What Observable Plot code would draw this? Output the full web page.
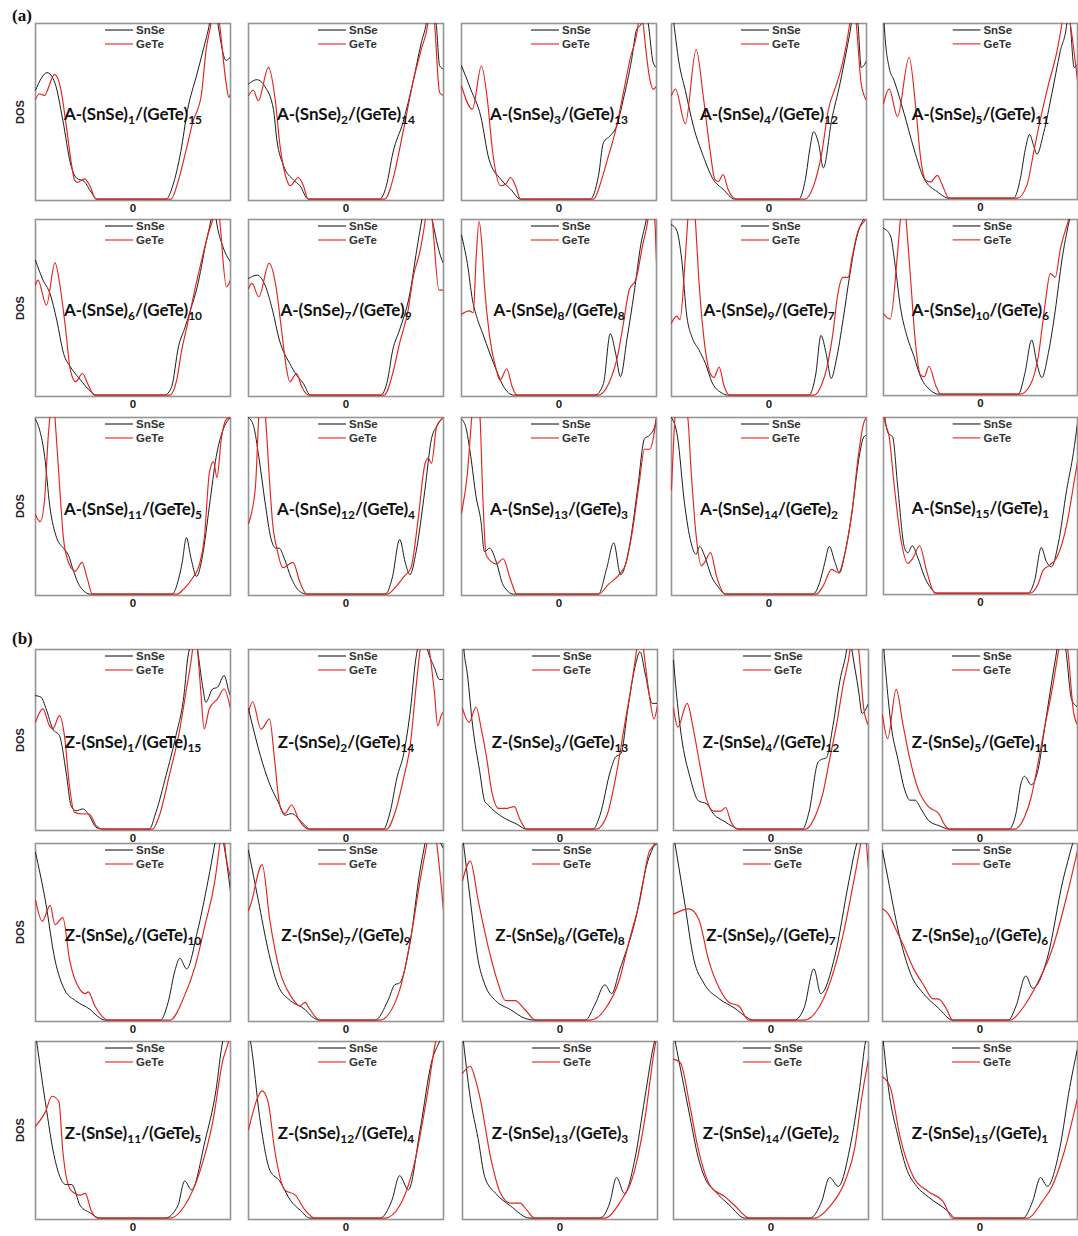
<!DOCTYPE html>
<html><head><meta charset="utf-8">
<script src="https://cdn.jsdelivr.net/npm/d3@7"></script>
<script src="https://cdn.jsdelivr.net/npm/@observablehq/plot@0.6"></script>
<style>
body{margin:0;background:#fff;}
#page{position:relative;width:1078px;height:1236px;overflow:hidden;font-family:"Liberation Sans",Arial,sans-serif;background:#fff;}
.panel{position:absolute;}
.panel svg{display:block;overflow:visible;}
.tag{position:absolute;font-family:"Liberation Serif","Times New Roman",serif;font-weight:bold;font-size:17px;color:#111;}
.dos{position:absolute;font-weight:bold;font-size:11px;color:#222;transform:translate(-50%,-50%) rotate(-90deg);white-space:nowrap;}
</style></head><body><div id="page"></div>
<script>
// ---------- data ----------
const seriesNames = ["SnSe", "GeTe"];
const seriesColors = ["#1c1c1c", "#e3231f"];
const snseLayers = [1,2,3,4,5,6,7,8,9,10,11,12,13,14,15];
const geteLayers = [15,14,13,12,11,10,9,8,7,6,5,4,3,2,1];
const groupPrefixes = ["A", "Z"];
const groupTags = ["(a)", "(b)"];
const xTicks = [0];

// DOS curves: flat [energy, dos] pairs, energy scaled to [-1, 1], dos to frame height
const snseA = [
 [-1,.62,-.88,.72,-.8,.66,-.72,.45,-.64,.2,-.58,.12,-.5,.1,-.43,.04,-.37,0,.34,0,.41,.08,.49,.27,.56,.51,.65,.7,.72,.85,.785,1,.83,1.15,.87,1,.955,.79,1,.81],
 [-1,.655,-.915,.68,-.83,.64,-.744,.51,-.71,.34,-.64,.19,-.54,.11,-.472,.076,-.387,0,.346,0,.414,.076,.482,.266,.584,.436,.686,.664,.772,.89,.823,1,.86,1.15,.925,1,.96,.76,1,.74],
 [-1,.76,-.905,.625,-.803,.473,-.718,.227,-.599,.114,-.497,.057,-.395,0,.32,0,.405,.133,.456,.322,.524,.36,.592,.417,.66,.568,.745,.795,.796,.966,.847,1.0,.87,1.1,.915,1.0,.966,.777,1,.748],
 [-1,1.1,-.976,1.0,-.926,.787,-.858,.618,-.774,.412,-.673,.243,-.572,.112,-.471,.056,-.352,0,.305,0,.373,.112,.423,.3,.457,.384,.508,.318,.558,.178,.642,.449,.727,.655,.794,.843,.845,1.0,.87,1.1,.912,1.0,.946,.749,1,.787],
 [-1,1.1,-.993,1.0,-.942,.748,-.89,.673,-.788,.486,-.685,.28,-.582,.112,-.445,.037,-.325,0,.342,0,.411,.112,.462,.28,.507,.364,.548,.3,.582,.252,.651,.374,.736,.598,.822,.841,.89,1.0,.907,1.1,.925,1.0,.966,.748,1,.766],
 [-1,.768,-.923,.655,-.852,.579,-.782,.427,-.712,.237,-.642,.161,-.536,.085,-.448,.028,-.378,0,.325,0,.396,.047,.466,.275,.536,.389,.589,.484,.659,.617,.747,.863,.8,1.0,.83,1.1,.853,1.0,.923,.844,1,.759],
 [-1,.664,-.912,.683,-.824,.617,-.754,.484,-.683,.313,-.577,.18,-.507,.114,-.437,.066,-.366,0,.356,0,.426,.085,.479,.256,.549,.37,.655,.579,.725,.825,.778,1.0,.83,1.15,.884,1.0,.972,.787,1,.75],
 [-1,.91,-.94,.75,-.887,.54,-.835,.43,-.782,.35,-.711,.24,-.641,.14,-.57,.05,-.465,0,.37,0,.456,.066,.526,.35,.58,.24,.63,.105,.7,.33,.77,.58,.84,.86,.895,1.0,.93,1.12,1,1.15],
 [-1,.97,-.948,.94,-.895,.77,-.843,.45,-.79,.33,-.721,.26,-.652,.18,-.582,.07,-.477,.01,-.425,0,.41,0,.48,.12,.533,.34,.585,.24,.638,.095,.69,.2,.76,.43,.83,.69,.9,.9,.969,1.0,1,1.02],
 [-1,.95,-.93,.91,-.878,.73,-.826,.5,-.757,.33,-.688,.22,-.618,.1,-.531,.03,-.427,0,.389,0,.458,.12,.528,.31,.58,.18,.632,.095,.701,.24,.771,.48,.84,.77,.91,.98,1,1.15],
 [-1,.99,-.958,.93,-.906,.78,-.854,.5,-.784,.32,-.714,.26,-.662,.22,-.61,.13,-.54,.04,-.436,0,.4,0,.47,.09,.505,.18,.547,.32,.596,.2,.652,.1,.714,.22,.784,.5,.854,.78,.923,.93,1,1.0],
 [-1,1.0,-.947,.95,-.895,.78,-.825,.5,-.772,.32,-.719,.26,-.684,.26,-.632,.2,-.561,.09,-.474,.015,-.404,0,.404,0,.474,.09,.551,.31,.607,.18,.656,.11,.719,.24,.807,.58,.877,.88,.93,.95,1,1.0],
 [-1,.99,-.958,.95,-.905,.78,-.853,.56,-.8,.41,-.765,.24,-.712,.26,-.642,.18,-.572,.05,-.467,0,.404,0,.491,.15,.561,.29,.632,.11,.719,.26,.807,.6,.877,.88,.93,.9,.982,.95,1,1.0],
 [-1,1.0,-.938,.89,-.868,.52,-.799,.29,-.747,.225,-.712,.27,-.66,.216,-.59,.1,-.52,.04,-.451,0,.451,0,.52,.066,.573,.18,.618,.27,.677,.18,.722,.12,.78,.235,.85,.46,.92,.76,.972,.89,1,.9],
 [-1,1.05,-.951,.91,-.906,.89,-.854,.61,-.784,.26,-.749,.23,-.704,.27,-.645,.2,-.575,.09,-.505,.024,-.453,0,.488,0,.557,.07,.627,.26,.679,.18,.732,.15,.801,.28,.889,.59,.958,.8,1,.97]
];
const geteA = [
 [-1,.57,-.96,.6,-.91,.59,-.805,.71,-.74,.625,-.685,.42,-.634,.21,-.6,.11,-.57,.095,-.497,.115,-.446,.08,-.378,0,.391,0,.46,.095,.545,.28,.614,.44,.7,.59,.75,.85,.8,1.0,.84,1.15,.887,1.0,.955,.66,.983,.58,1,.6],
 [-1,.59,-.95,.62,-.9,.56,-.795,.75,-.727,.57,-.676,.3,-.608,.11,-.574,.076,-.489,.123,-.437,.076,-.387,0,.397,0,.482,.114,.55,.285,.618,.474,.686,.664,.772,.853,.84,1,.87,1.15,.908,1,.96,.607,1,.59],
 [-1,.644,-.888,.511,-.796,.758,-.735,.568,-.684,.284,-.599,.076,-.548,.085,-.497,.123,-.446,.076,-.395,0,.354,0,.439,.114,.507,.246,.558,.341,.626,.511,.728,.795,.813,1.0,.84,1.15,.864,1.0,.932,.682,.966,.625,1,.644],
 [-1,.59,-.96,.627,-.858,.43,-.747,.852,-.673,.58,-.605,.28,-.555,.112,-.52,.1,-.471,.14,-.42,.056,-.336,0,.373,0,.457,.075,.541,.262,.608,.506,.693,.655,.76,.787,.828,1.0,.86,1.15,.895,1.0,.946,.655,1,.562],
 [-1,.542,-.942,.626,-.856,.467,-.736,.807,-.668,.523,-.616,.224,-.565,.103,-.514,.093,-.445,.131,-.394,.075,-.325,0,.377,0,.479,.075,.548,.262,.616,.449,.702,.654,.788,.841,.839,1.0,.87,1.15,.925,1.0,1,.673],
 [-1,.626,-.975,.655,-.888,.512,-.8,.753,-.747,.617,-.694,.389,-.642,.142,-.589,.076,-.518,.123,-.466,.066,-.395,0,.378,0,.448,.085,.5,.256,.553,.389,.641,.617,.712,.787,.782,.94,.817,1.0,.85,1.15,.888,1.0,.958,.617,1,.655],
 [-1,.607,-.965,.636,-.894,.56,-.789,.75,-.718,.617,-.665,.389,-.613,.161,-.577,.076,-.507,.123,-.454,.047,-.384,0,.391,0,.479,.123,.549,.294,.637,.484,.69,.674,.761,.825,.814,1.0,.85,1.15,.884,1.0,.954,.598,1,.598],
 [-1,.46,-.92,.48,-.88,.47,-.85,.78,-.82,.99,-.79,.85,-.764,.62,-.711,.33,-.641,.14,-.606,.085,-.535,.15,-.482,.05,-.43,0,.403,0,.51,.066,.6,.22,.667,.43,.72,.6,.79,.66,.86,.86,.912,1.0,.94,1.15,.982,1.0,1,.75],
 [-1,.41,-.948,.45,-.913,.43,-.86,.77,-.833,1.0,-.8,1.2,-.756,1.0,-.721,.67,-.669,.33,-.6,.12,-.564,.1,-.512,.16,-.46,.05,-.408,0,.463,0,.533,.05,.603,.18,.655,.35,.707,.58,.76,.67,.812,.67,.847,.77,.916,.94,.986,1.0,1,1.02],
 [-1,.46,-.93,.43,-.861,.77,-.826,1.0,-.8,1.2,-.767,1.0,-.722,.67,-.67,.29,-.618,.11,-.58,.1,-.531,.16,-.462,.05,-.41,0,.406,0,.51,.05,.597,.22,.667,.52,.719,.69,.771,.67,.823,.83,.91,1.0,1,1.15],
 [-1,.45,-.951,.41,-.906,.54,-.871,.88,-.854,1.0,-.83,1.2,-.8,1.0,-.749,.58,-.714,.32,-.662,.18,-.592,.13,-.523,.18,-.47,.09,-.418,0,.453,0,.523,.03,.61,.09,.68,.165,.732,.32,.784,.69,.826,.75,.861,.66,.906,.88,.958,.99,1,1.0],
 [-1,.4,-.93,.6,-.895,1.0,-.87,1.2,-.825,1.0,-.79,.69,-.754,.41,-.702,.24,-.649,.15,-.544,.18,-.474,.07,-.404,0,.421,0,.509,.04,.596,.1,.667,.15,.737,.41,.807,.73,.842,.77,.877,.74,.93,.95,1,1.0],
 [-1,.46,-.94,.68,-.895,1.0,-.86,1.2,-.81,1.0,-.782,.56,-.747,.22,-.642,.17,-.572,.2,-.502,.09,-.432,0,.404,0,.509,.056,.632,.12,.684,.17,.754,.36,.825,.64,.877,.82,.93,.82,.982,.93,1,1.0],
 [-1,.59,-.965,1.0,-.93,1.2,-.833,1.0,-.799,.7,-.747,.33,-.694,.16,-.66,.18,-.6,.235,-.538,.1,-.451,0,.486,0,.556,.047,.642,.14,.677,.13,.712,.12,.78,.235,.85,.46,.92,.8,.972,.97,1,1.0],
 [-1,1.05,-.993,1.0,-.941,.89,-.889,.61,-.819,.3,-.749,.17,-.697,.2,-.627,.27,-.557,.13,-.47,0,.505,0,.592,.05,.645,.13,.714,.16,.784,.2,.889,.39,.958,.61,1,.75]
];
const snseB = [
 [-1,.743,-.942,.734,-.891,.669,-.823,.558,-.754,.52,-.686,.316,-.635,.13,-.584,.102,-.515,.112,-.447,.074,-.379,.01,-.31,0,.167,0,.235,.093,.338,.297,.44,.52,.526,.762,.56,.948,.577,1.0,.62,1.15,.662,1.0,.713,.8,.747,.706,.816,.78,.867,.79,.935,.855,.986,.762,1,.743],
 [-1,.67,-.94,.536,-.854,.364,-.767,.23,-.697,.153,-.627,.077,-.557,.086,-.453,.038,-.366,0,.383,0,.453,.096,.523,.287,.592,.42,.662,.67,.714,.94,.732,1.0,.78,1.15,.836,1.0,.906,.9,.958,.833,1,.833],
 [-1,1.1,-.986,1.0,-.95,.862,-.896,.575,-.825,.326,-.771,.153,-.736,.134,-.664,.096,-.557,.057,-.45,.029,-.343,0,.339,0,.41,.077,.518,.326,.571,.402,.625,.42,.696,.67,.768,.9,.821,.987,.875,.862,.946,.7,1,.7],
 [-1,.94,-.972,.768,-.92,.52,-.832,.291,-.745,.158,-.657,.139,-.587,.082,-.483,.044,-.395,.015,-.325,0,.322,0,.392,.1,.479,.368,.514,.387,.566,.396,.636,.577,.706,.825,.776,1.0,.8,1.1,.829,1.0,.899,.768,.934,.644,1,.7],
 [-1,1.1,-.965,.863,-.912,.579,-.842,.389,-.772,.218,-.719,.161,-.667,.161,-.596,.104,-.526,.047,-.421,.019,-.316,0,.298,0,.368,.085,.421,.256,.456,.294,.526,.247,.596,.332,.667,.579,.737,.825,.789,1.0,.83,1.15,.88,1.0,.94,.72,1,.68],
 [-1,.95,-.9,.68,-.8,.34,-.7,.17,-.59,.11,-.44,.06,-.36,.02,-.29,0,.28,0,.36,.1,.43,.28,.48,.35,.55,.29,.66,.5,.77,.79,.84,1.0,.88,1.12,.93,1.0,1,.73],
 [-1,.96,-.9,.68,-.8,.4,-.7,.2,-.57,.11,-.42,.06,-.35,.02,-.27,0,.3,0,.43,.11,.5,.2,.55,.21,.66,.45,.76,.85,.81,1.0,.86,1.15,.93,1.05,1,.97],
 [-1,1.05,-.92,.68,-.84,.34,-.77,.2,-.66,.11,-.51,.06,-.36,.01,-.26,0,.26,0,.36,.09,.46,.2,.53,.15,.61,.28,.77,.56,.9,.9,.97,1.0,1,1.05],
 [-1,1.05,-.89,.68,-.79,.34,-.69,.21,-.53,.12,-.38,.07,-.23,.01,-.18,0,.24,0,.34,.07,.44,.29,.51,.15,.65,.35,.8,.79,.88,1.0,1,1.1],
 [-1,.96,-.94,.79,-.84,.51,-.71,.26,-.58,.15,-.43,.07,-.28,0,.29,0,.37,.08,.47,.25,.54,.18,.69,.35,.85,.79,.95,1.0,1,1.1],
 [-1,1.05,-.9,.66,-.8,.33,-.69,.19,-.63,.19,-.54,.07,-.44,.03,-.34,0,.33,0,.46,.07,.53,.21,.6,.16,.74,.44,.85,.72,.92,1.0,1,1.1],
 [-1,1.05,-.98,1.0,-.88,.55,-.78,.27,-.68,.21,-.57,.1,-.47,.045,-.37,0,.35,0,.47,.1,.55,.24,.64,.16,.76,.5,.88,.89,.96,1.0,1,1.05],
 [-1,1.05,-.92,.68,-.84,.45,-.77,.23,-.66,.14,-.51,.07,-.31,0,.41,0,.51,.085,.58,.23,.66,.14,.77,.34,.87,.68,.97,1.0,1,1.05],
 [-1,1.05,-.93,.85,-.83,.57,-.75,.35,-.68,.23,-.57,.15,-.42,.07,-.27,0,.4,0,.52,.095,.6,.23,.69,.18,.81,.4,.91,.74,.97,1.0,1,1.05],
 [-1,1.05,-.94,.74,-.84,.46,-.76,.29,-.65,.18,-.53,.12,-.33,.04,-.25,0,.44,0,.54,.095,.62,.23,.69,.18,.82,.4,.92,.74,1,.96]
];
const geteB = [
 [-1,.595,-.925,.669,-.857,.576,-.823,.558,-.754,.632,-.703,.52,-.652,.242,-.601,.093,-.515,.084,-.447,.084,-.379,.019,-.31,0,.201,0,.27,.074,.372,.297,.474,.539,.543,.762,.611,1.0,.64,1.15,.662,1.0,.696,.762,.73,.558,.782,.669,.867,.725,.935,.78,1,.669],
 [-1,.651,-.958,.709,-.871,.556,-.784,.613,-.732,.383,-.679,.134,-.627,.086,-.557,.134,-.488,.057,-.383,0,.418,0,.505,.096,.592,.287,.662,.479,.714,.766,.76,1.0,.8,1.15,.854,1.0,.906,.766,.941,.575,.976,.632,1,.651],
 [-1,.67,-.932,.594,-.861,.68,-.807,.556,-.754,.402,-.7,.21,-.629,.115,-.557,.115,-.468,.125,-.414,.057,-.343,0,.375,0,.482,.077,.571,.287,.661,.575,.75,.862,.786,1.0,.82,1.15,.857,1.0,.911,.766,.964,.613,1,.69],
 [-1,.672,-.955,.568,-.86,.7,-.797,.558,-.727,.349,-.657,.158,-.587,.1,-.517,.1,-.465,.12,-.413,.044,-.343,0,.357,0,.462,.082,.531,.196,.601,.387,.671,.577,.741,.806,.811,1.0,.84,1.15,.899,1.0,.951,.672,1,.577],
 [-1,.636,-.947,.503,-.86,.778,-.789,.579,-.719,.389,-.632,.218,-.526,.123,-.421,.085,-.368,.028,-.316,0,.351,0,.456,.066,.526,.18,.596,.37,.667,.579,.737,.768,.807,1.0,.85,1.15,.9,1.0,.96,.65,1,.58],
 [-1,.68,-.93,.56,-.85,.65,-.8,.54,-.72,.58,-.65,.34,-.54,.17,-.49,.15,-.46,.16,-.39,.08,-.33,.03,-.26,0,.38,0,.53,.14,.64,.31,.74,.54,.84,.79,.89,1.0,.92,1.15,.94,1.0,1,.81],
 [-1,.62,-.98,.65,-.86,.88,-.78,.56,-.68,.28,-.57,.14,-.47,.08,-.42,.1,-.37,.06,-.27,0,.35,0,.55,.17,.66,.45,.76,.79,.83,1.0,.88,1.15,.93,1.0,1,.62],
 [-1,.79,-.92,.9,-.84,.68,-.73,.4,-.63,.2,-.56,.11,-.46,.11,-.36,.06,-.25,0,.31,0,.46,.06,.61,.23,.71,.45,.82,.68,.92,.96,1,1.0],
 [-1,.6,-.84,.63,-.74,.57,-.64,.34,-.53,.18,-.43,.1,-.33,.08,-.23,0,.34,0,.49,.07,.65,.29,.75,.51,.85,.79,.92,1.0,.95,1.1,1,.85],
 [-1,.63,-.94,.6,-.86,.51,-.79,.43,-.68,.29,-.58,.2,-.48,.12,-.43,.12,-.35,.07,-.28,0,.31,0,.44,.07,.59,.21,.74,.4,.88,.68,1,.96],
 [-1,.52,-.9,.6,-.83,.69,-.76,.66,-.72,.38,-.64,.16,-.54,.13,-.49,.14,-.43,.045,-.36,0,.38,0,.53,.07,.69,.27,.82,.55,.92,.89,.98,1.0,1,1.05],
 [-1,.5,-.9,.69,-.86,.72,-.8,.66,-.73,.38,-.63,.16,-.52,.13,-.42,.045,-.32,0,.4,0,.55,.07,.71,.33,.84,.72,.92,1.0,1,1.1],
 [-1,.82,-.92,.86,-.87,.79,-.82,.68,-.71,.34,-.61,.14,-.51,.085,-.41,.085,-.34,.045,-.26,0,.46,0,.61,.085,.77,.28,.87,.56,.97,.96,1,1.05],
 [-1,.9,-.93,.88,-.83,.63,-.75,.4,-.62,.18,-.47,.12,-.37,.07,-.22,0,.45,0,.61,.07,.76,.21,.86,.4,.93,.68,1,.9],
 [-1,.8,-.92,.74,-.82,.46,-.68,.23,-.53,.15,-.38,.095,-.28,0,.49,0,.64,.095,.74,.18,.85,.35,1,.68]
];

// ---------- layout ----------
const groupColLeft = [[35,248,461,671,883],[35,248,462,673,882]];
const groupRowTop = [[23,219,417],[649,843,1041]];
const groupRowHeight = [[177,177,178],[181,178,178]];
const panelWidth = 195;
const tagTop = [6, 629];

const page = document.getElementById("page");

function pairs(flat, name) {
  const out = [];
  for (let i = 0; i < flat.length; i += 2) out.push({e: flat[i], dos: flat[i + 1], s: name});
  return out;
}

function makePanel(g, i, snse, gete) {
  const col = i % 5, row = Math.floor(i / 5);
  const left = groupColLeft[g][col], top = groupRowTop[g][row], h = groupRowHeight[g][row];
  const label = `${groupPrefixes[g]}-(SnSe)${snseLayers[i]}/(GeTe)${geteLayers[i]}`;
  const m = {l: 1, r: 1, t: 1, b: 18};
  const chart = Plot.plot({
    width: panelWidth + m.l + m.r,
    height: h + m.t + m.b,
    marginLeft: m.l, marginRight: m.r, marginTop: m.t, marginBottom: m.b,
    style: {background: "transparent", overflow: "visible"},
    x: {domain: [-1, 1]},
    y: {domain: [-0.008, 1], axis: null},
    color: {domain: seriesNames, range: seriesColors},
    marks: [
      Plot.frame({stroke: "#959595", strokeWidth: 1.6}),
      Plot.axisX(xTicks, {tickSize: 0, tickPadding: 3, fontSize: 11.5, fontWeight: "bold", fill: "#1a1a1a", label: null, fontFamily: "Liberation Sans, Arial, sans-serif"}),
      Plot.line(pairs(snse, seriesNames[0]), {x: "e", y: "dos", stroke: "s", curve: "monotone-x", clip: true, strokeWidth: 1}),
      Plot.line(pairs(gete, seriesNames[1]), {x: "e", y: "dos", stroke: "s", curve: "monotone-x", clip: true, strokeWidth: 1.15}),
      Plot.text([label], {text: d => d, frameAnchor: "middle", dy: 3, fontSize: 17, fontWeight: "bold", fontFamily: "Lato, 'Open Sans', sans-serif", fill: "#111"})
    ]
  });
  const svg = d3.select(chart);
  // subscripts for the layer counts
  svg.selectAll("text").filter(function () { return this.textContent.includes("(SnSe)"); }).each(function () {
    const mm = this.textContent.match(/^(.*\))(\d+)(\/.*\))(\d+)$/);
    if (!mm) return;
    const t = d3.select(this).text(null);
    t.append("tspan").text(mm[1]);
    t.append("tspan").attr("font-size", 12).attr("dy", 4).text(mm[2]);
    t.append("tspan").attr("dy", -4).text(mm[3]);
    t.append("tspan").attr("font-size", 12).attr("dy", 4).text(mm[4]);
  });
  // in-panel legend
  const lg = svg.append("g").attr("transform", `translate(${m.l},${m.t})`)
    .attr("font-family", "Liberation Sans, Arial, sans-serif").attr("font-weight", "bold")
    .attr("font-size", 11.5).attr("text-anchor", "start");
  seriesNames.forEach((name, k) => {
    const y = 7 + k * 14;
    lg.append("line").attr("x1", 70).attr("x2", 98).attr("y1", y).attr("y2", y)
      .attr("stroke", seriesColors[k]).attr("stroke-width", 1.1);
    lg.append("text").attr("x", 101).attr("y", y).attr("dy", "0.35em").attr("text-anchor", "start")
      .attr("fill", "#333").text(name);
  });
  const div = document.createElement("div");
  div.className = "panel";
  div.style.left = (left - m.l) + "px";
  div.style.top = (top - m.t) + "px";
  div.appendChild(chart);
  page.appendChild(div);
}

[[snseA, geteA], [snseB, geteB]].forEach(([sn, ge], g) => {
  sn.forEach((_, i) => makePanel(g, i, sn[i], ge[i]));
  const tag = document.createElement("div");
  tag.className = "tag"; tag.textContent = groupTags[g];
  tag.style.left = "12px"; tag.style.top = tagTop[g] + "px";
  page.appendChild(tag);
  groupRowTop[g].forEach((t, r) => {
    const d = document.createElement("div");
    d.className = "dos"; d.textContent = "DOS";
    d.style.left = "20px"; d.style.top = (t + groupRowHeight[g][r] / 2) + "px";
    page.appendChild(d);
  });
});
</script>
</body></html>
